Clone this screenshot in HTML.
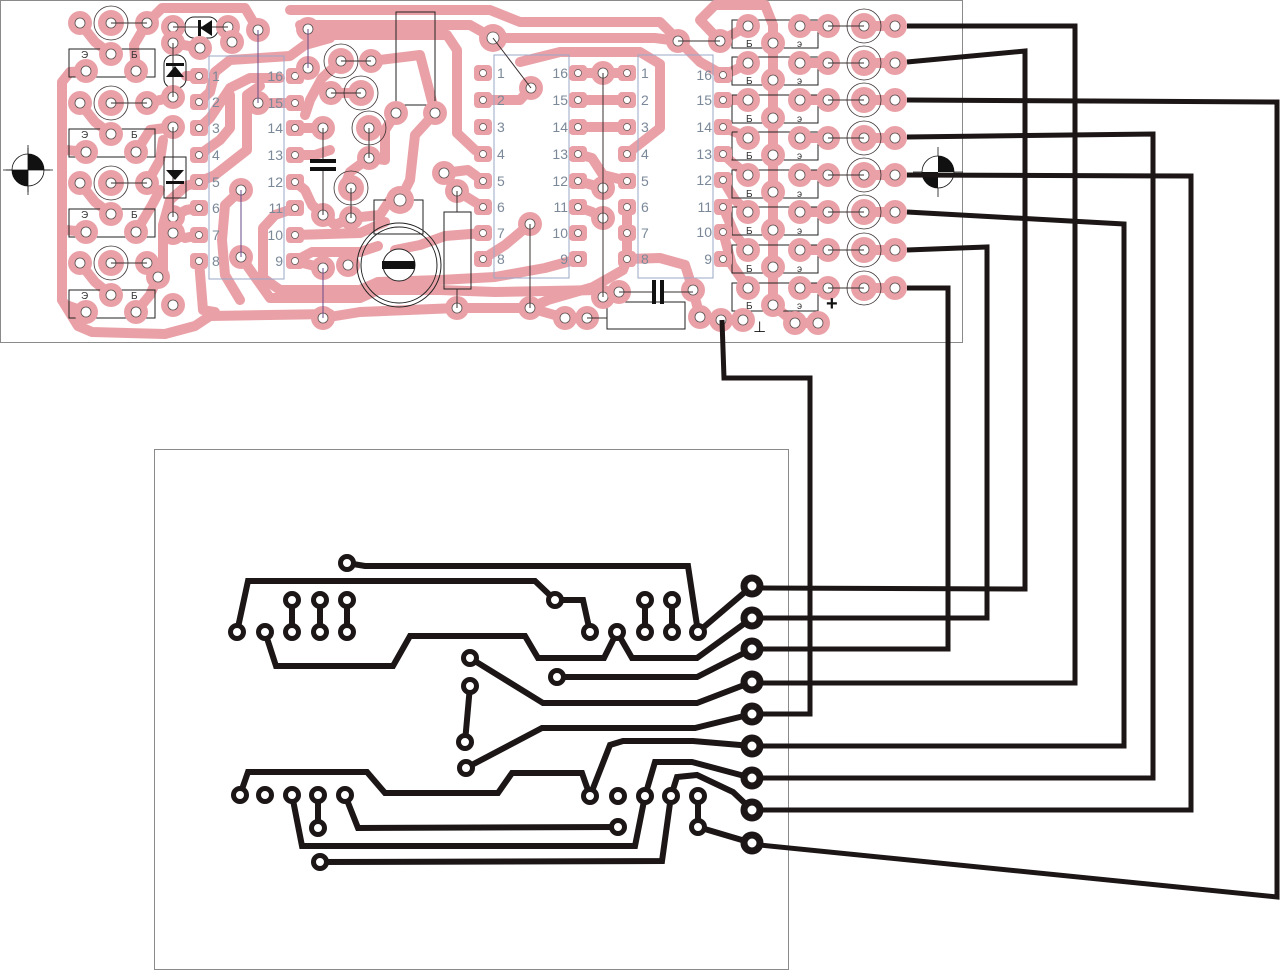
<!DOCTYPE html>
<html><head><meta charset="utf-8"><style>
html,body{margin:0;padding:0;background:#fff;}
svg{display:block;}
.t{fill:none;stroke:#e9a1a7;stroke-width:10;stroke-linejoin:round;stroke-linecap:round;}
.tn{fill:none;stroke:#3a3030;stroke-width:1;}
.tv{fill:none;stroke:#6a4a8a;stroke-width:1;}
.b{fill:none;stroke:#1c1616;stroke-width:6;stroke-linejoin:miter;stroke-linecap:butt;}
.w{fill:none;stroke:#1c1616;stroke-width:5;stroke-linejoin:miter;}
.lbl{font-family:"Liberation Sans",sans-serif;font-size:14px;fill:#7a8898;}
.tr{font-family:"Liberation Sans",sans-serif;font-size:10px;fill:#333;}
</style></head><body>
<svg width="1280" height="972" viewBox="0 0 1280 972" xmlns="http://www.w3.org/2000/svg">
<defs>
<g id="pp"><circle r="12" fill="#e9a1a7"/><circle r="5" fill="#fff" stroke="#5a5050" stroke-width="0.8"/></g>
<g id="pl"><circle r="14" fill="#e9a1a7"/><circle r="6" fill="#fff" stroke="#5a5050" stroke-width="0.8"/></g>
<g id="pr"><circle r="13" fill="#e9a1a7"/><circle r="5" fill="#fff" stroke="#5a5050" stroke-width="0.8"/><circle r="17" fill="none" stroke="#3a3030" stroke-width="0.8"/></g>
<g id="ic"><rect x="-9" y="-8" width="18" height="16" rx="4" fill="#e9a1a7"/><circle r="3.5" fill="#fff" stroke="#5a5050" stroke-width="0.7"/></g>
<g id="bp"><circle r="6.5" fill="#fff" stroke="#1c1616" stroke-width="5"/></g>
<g id="bq"><circle r="8" fill="#fff" stroke="#1c1616" stroke-width="7"/></g>
</defs>

<!-- top board frame -->
<rect x="0.5" y="0.5" width="962" height="342" fill="#fff" stroke="#8a8a8a" stroke-width="1"/>

<!-- pink traces top board -->
<g class="t">
<path d="M62,300 L62,82 L70,72 L86,71"/>
<path d="M62,300 L78,326 L92,332 L165,334 L195,326 L210,316 L330,314"/>
<path d="M80,23 L95,42 L111,54"/>
<path d="M147,23 L134,45 L136,71"/>
<path d="M147,23 L162,8 L245,8 L258,30"/>
<path d="M80,103 L95,122 L111,134"/>
<path d="M147,103 L173,97"/>
<path d="M136,152 L150,130 L173,127"/>
<path d="M80,183 L95,202 L111,214"/>
<path d="M147,183 L160,160 L163,140"/>
<path d="M136,232 L152,205 L160,190"/>
<path d="M80,263 L95,282 L111,295"/>
<path d="M147,263 L158,277"/>
<path d="M136,312 L150,295 L158,277"/>
<path d="M86,152 L66,150"/>
<path d="M86,232 L66,230"/>
<path d="M86,312 L66,305"/>
<path d="M173,43 L200,48"/>
<path d="M228,27 L232,42"/>
<path d="M199,76 L186,76"/>
<path d="M199,102 L210,92 L215,72 L230,60 L290,56 L305,45 L330,38"/>
<path d="M199,128 L210,118 L230,88 L250,78 L280,78"/>
<path d="M199,155 L220,140 L230,128 L230,95"/>
<path d="M199,182 L215,175 L247,150 L247,95 L260,86"/>
<path d="M199,208 L186,210 L173,217"/>
<path d="M199,235 L185,238 L173,233"/>
<path d="M199,261 L203,310 L215,312"/>
<path d="M199,182 L186,186 L170,200 L163,225 L163,270 L158,277"/>
<path d="M241,190 L225,205 L222,240 L225,275 L240,300"/>
<path d="M295,76 L308,68"/>
<path d="M295,103 L258,103"/>
<path d="M295,128 L323,128"/>
<path d="M295,155 L315,155 L330,150"/>
<path d="M295,182 L305,190 L312,205 L323,215"/>
<path d="M295,208 L275,215 L263,228 L263,278 L280,290 L360,290 L378,282 L440,280 L495,277 L545,268 L578,259"/>
<path d="M241,257 L270,298 L360,298 L378,290 L440,290 L495,292 L600,290"/>
<path d="M295,235 L360,233 L385,222"/>
<path d="M295,261 L312,252 L360,252 L378,246"/>
<path d="M295,261 L323,268"/>
<path d="M323,318 L360,312 L457,308 L530,308 L548,300 L593,287 L623,270 L627,259"/>
<path d="M530,308 L565,318 L587,318"/>
<path d="M290,10 L490,10 L520,22 L660,22 L700,62 L723,75"/>
<path d="M300,25 L470,25 L493,38 L655,38 L678,41"/>
<path d="M320,35 L447,35 L457,50 L457,133 L475,150 L483,154"/>
<path d="M371,61 L420,55 L435,113"/>
<path d="M341,61 L322,78 L310,100 L305,115"/>
<path d="M331,93 L361,93"/>
<path d="M396,113 L385,130 L385,160 L369,158"/>
<path d="M435,113 L415,135 L410,180 L400,200"/>
<path d="M369,158 L350,172 L345,185 L351,188"/>
<path d="M351,218 L335,225 L323,215"/>
<path d="M351,218 L380,215 L390,200 L400,200"/>
<path d="M444,173 L457,191 L483,207"/>
<path d="M483,181 L468,170 L444,173"/>
<path d="M483,233 L445,236 L420,245 L395,250"/>
<path d="M483,259 L505,245 L530,224"/>
<path d="M483,100 L520,100 L531,88"/>
<path d="M578,73 L627,73"/>
<path d="M578,100 L627,100"/>
<path d="M578,127 L627,127"/>
<path d="M578,154 L592,158 L603,175 L627,181"/>
<path d="M578,181 L603,188"/>
<path d="M578,207 L592,212 L603,218"/>
<path d="M627,207 L627,259"/>
<path d="M520,62 L560,52 L640,52 L660,64 L660,128 L627,154"/>
<path d="M627,259 L660,258 L685,265 L693,290 L700,317 L721,320 L743,320"/>
<path d="M773,26 L773,305 L795,323 L818,323"/>
<path d="M720,41 L700,20 L715,5 L765,5 L773,25"/>
<path d="M720,41 L735,33 L748,26"/>
<path d="M723,75 L735,70 L748,63"/>
<path d="M723,100 L748,100"/>
<path d="M723,127 L735,132 L748,138"/>
<path d="M723,154 L735,165 L748,175"/>
<path d="M723,180 L735,200 L748,212"/>
<path d="M723,207 L735,235 L748,250"/>
<path d="M723,232 L732,265 L748,288"/>
<path d="M800,26 L828,26"/><path d="M800,63 L828,63"/><path d="M800,100 L828,100"/><path d="M800,138 L828,138"/>
<path d="M800,175 L828,175"/><path d="M800,212 L828,212"/><path d="M800,250 L828,250"/><path d="M800,288 L828,288"/>
<path d="M864,26 L895,26"/><path d="M864,63 L895,63"/><path d="M864,100 L895,100"/><path d="M864,138 L895,138"/>
<path d="M864,175 L895,175"/><path d="M864,212 L895,212"/><path d="M864,250 L895,250"/><path d="M864,288 L895,288"/>
</g>

<!-- component outlines -->
<g fill="none" stroke="#9aa8c8" stroke-width="1">
<rect x="209" y="56" width="75" height="223"/>
<rect x="494" y="55" width="75" height="223"/>
<rect x="638" y="55" width="75" height="223"/>
</g>
<g fill="none" stroke="#222" stroke-width="1">
<rect x="69" y="49" width="86" height="28"/>
<rect x="69" y="129" width="86" height="28"/>
<rect x="69" y="209" width="86" height="28"/>
<rect x="69" y="290" width="86" height="28"/>
<rect x="185" y="17" width="33" height="21" rx="9"/>
<rect x="164" y="55" width="22" height="33" rx="9"/>
<rect x="164" y="157" width="22" height="41"/>
<rect x="396" y="12" width="39" height="93"/>
<rect x="374" y="200" width="49" height="34"/>
<rect x="444" y="212" width="27" height="77"/>
<rect x="607" y="302" width="78" height="27"/>
<rect x="732" y="20" width="86" height="28"/><rect x="732" y="57" width="86" height="28"/>
<rect x="732" y="95" width="86" height="28"/><rect x="732" y="132" width="86" height="28"/>
<rect x="732" y="170" width="86" height="28"/><rect x="732" y="207" width="86" height="28"/>
<rect x="732" y="245" width="86" height="28"/><rect x="732" y="283" width="86" height="28"/>
</g>

<!-- IC pins -->
<g>
<use href="#ic" x="199" y="76"/><use href="#ic" x="199" y="102"/><use href="#ic" x="199" y="128"/><use href="#ic" x="199" y="155"/>
<use href="#ic" x="199" y="182"/><use href="#ic" x="199" y="208"/><use href="#ic" x="199" y="235"/><use href="#ic" x="199" y="261"/>
<use href="#ic" x="295" y="76"/><use href="#ic" x="295" y="103"/><use href="#ic" x="295" y="128"/><use href="#ic" x="295" y="155"/>
<use href="#ic" x="295" y="182"/><use href="#ic" x="295" y="208"/><use href="#ic" x="295" y="235"/><use href="#ic" x="295" y="261"/>
<use href="#ic" x="483" y="73"/><use href="#ic" x="483" y="100"/><use href="#ic" x="483" y="127"/><use href="#ic" x="483" y="154"/>
<use href="#ic" x="483" y="181"/><use href="#ic" x="483" y="207"/><use href="#ic" x="483" y="233"/><use href="#ic" x="483" y="259"/>
<use href="#ic" x="578" y="73"/><use href="#ic" x="578" y="100"/><use href="#ic" x="578" y="127"/><use href="#ic" x="578" y="154"/>
<use href="#ic" x="578" y="181"/><use href="#ic" x="578" y="207"/><use href="#ic" x="578" y="233"/><use href="#ic" x="578" y="259"/>
<use href="#ic" x="627" y="73"/><use href="#ic" x="627" y="100"/><use href="#ic" x="627" y="127"/><use href="#ic" x="627" y="154"/>
<use href="#ic" x="627" y="181"/><use href="#ic" x="627" y="207"/><use href="#ic" x="627" y="233"/><use href="#ic" x="627" y="259"/>
<use href="#ic" x="723" y="75"/><use href="#ic" x="723" y="100"/><use href="#ic" x="723" y="127"/><use href="#ic" x="723" y="154"/>
<use href="#ic" x="723" y="180"/><use href="#ic" x="723" y="207"/><use href="#ic" x="723" y="232"/><use href="#ic" x="723" y="259"/>
</g>

<!-- pin labels -->
<g class="lbl">
<text x="212" y="81">1</text><text x="212" y="107">2</text><text x="212" y="133">3</text><text x="212" y="160">4</text>
<text x="212" y="187">5</text><text x="212" y="213">6</text><text x="212" y="240">7</text><text x="212" y="266">8</text>
<g text-anchor="end">
<text x="283" y="81">16</text><text x="283" y="108">15</text><text x="283" y="133">14</text><text x="283" y="160">13</text>
<text x="283" y="187">12</text><text x="283" y="213">11</text><text x="283" y="240">10</text><text x="283" y="266">9</text>
<text x="568" y="78">16</text><text x="568" y="105">15</text><text x="568" y="132">14</text><text x="568" y="159">13</text>
<text x="568" y="186">12</text><text x="568" y="212">11</text><text x="568" y="238">10</text><text x="568" y="264">9</text>
<text x="712" y="80">16</text><text x="712" y="105">15</text><text x="712" y="132">14</text><text x="712" y="159">13</text>
<text x="712" y="185">12</text><text x="712" y="212">11</text><text x="712" y="237">10</text><text x="712" y="264">9</text>
</g>
<text x="497" y="78">1</text><text x="497" y="105">2</text><text x="497" y="132">3</text><text x="497" y="159">4</text>
<text x="497" y="186">5</text><text x="497" y="212">6</text><text x="497" y="238">7</text><text x="497" y="264">8</text>
<text x="641" y="78">1</text><text x="641" y="105">2</text><text x="641" y="132">3</text><text x="641" y="159">4</text>
<text x="641" y="186">5</text><text x="641" y="212">6</text><text x="641" y="238">7</text><text x="641" y="264">8</text>
</g>

<!-- pads top board -->
<g>
<use href="#pp" x="80" y="23"/><use href="#pr" x="111" y="23"/><use href="#pp" x="147" y="23"/><use href="#pp" x="111" y="54"/><use href="#pp" x="86" y="71"/><use href="#pp" x="136" y="71"/>
<use href="#pp" x="80" y="103"/><use href="#pr" x="111" y="103"/><use href="#pp" x="147" y="103"/><use href="#pp" x="111" y="134"/><use href="#pp" x="86" y="152"/><use href="#pp" x="136" y="152"/>
<use href="#pp" x="80" y="183"/><use href="#pr" x="111" y="183"/><use href="#pp" x="147" y="183"/><use href="#pp" x="111" y="214"/><use href="#pp" x="86" y="232"/><use href="#pp" x="136" y="232"/>
<use href="#pp" x="80" y="263"/><use href="#pr" x="111" y="263"/><use href="#pp" x="147" y="263"/><use href="#pp" x="158" y="277"/><use href="#pp" x="111" y="295"/><use href="#pp" x="86" y="312"/><use href="#pp" x="136" y="312"/>
<use href="#pp" x="173" y="27"/><use href="#pp" x="228" y="27"/><use href="#pp" x="173" y="43"/><use href="#pp" x="200" y="48"/><use href="#pp" x="232" y="42"/>
<use href="#pp" x="173" y="97"/><use href="#pp" x="173" y="127"/><use href="#pp" x="173" y="217"/><use href="#pp" x="173" y="233"/><use href="#pp" x="173" y="305"/>
<use href="#pp" x="258" y="30"/><use href="#pp" x="258" y="103"/><use href="#pp" x="241" y="190"/><use href="#pp" x="241" y="257"/>
<use href="#pp" x="308" y="29"/><use href="#pp" x="308" y="68"/>
<use href="#pp" x="323" y="128"/><use href="#pp" x="323" y="215"/><use href="#pp" x="323" y="268"/><use href="#pp" x="323" y="318"/><use href="#pp" x="348" y="265"/>
<use href="#pr" x="341" y="61"/><use href="#pp" x="371" y="61"/><use href="#pp" x="331" y="93"/><use href="#pr" x="361" y="93"/>
<use href="#pr" x="369" y="128"/><use href="#pp" x="369" y="158"/><use href="#pr" x="351" y="188"/><use href="#pp" x="351" y="218"/>
<use href="#pp" x="396" y="113"/><use href="#pp" x="435" y="113"/>
<use href="#pl" x="400" y="200"/>
<use href="#pp" x="444" y="173"/><use href="#pp" x="457" y="191"/><use href="#pp" x="457" y="308"/>
<use href="#pl" x="493" y="38"/>
<use href="#pp" x="531" y="88"/><use href="#pp" x="530" y="224"/><use href="#pp" x="530" y="308"/>
<use href="#pp" x="603" y="73"/><use href="#pp" x="603" y="188"/><use href="#pp" x="603" y="218"/><use href="#pp" x="603" y="297"/>
<use href="#pp" x="565" y="318"/><use href="#pp" x="587" y="318"/><use href="#pp" x="619" y="292"/>
<use href="#pp" x="693" y="290"/><use href="#pp" x="700" y="317"/><use href="#pp" x="721" y="320"/><use href="#pp" x="743" y="320"/>
<use href="#pp" x="795" y="323"/><use href="#pp" x="818" y="323"/>
<use href="#pp" x="678" y="41"/><use href="#pp" x="720" y="41"/>
</g>
<g>
<use href="#pp" x="748" y="26"/><use href="#pp" x="800" y="26"/><use href="#pp" x="773" y="43"/><use href="#pp" x="828" y="26"/><use href="#pr" x="864" y="26"/><use href="#pp" x="895" y="26"/>
<use href="#pp" x="748" y="63"/><use href="#pp" x="800" y="63"/><use href="#pp" x="773" y="80"/><use href="#pp" x="828" y="63"/><use href="#pr" x="864" y="63"/><use href="#pp" x="895" y="63"/>
<use href="#pp" x="748" y="100"/><use href="#pp" x="800" y="100"/><use href="#pp" x="773" y="118"/><use href="#pp" x="828" y="100"/><use href="#pr" x="864" y="100"/><use href="#pp" x="895" y="100"/>
<use href="#pp" x="748" y="138"/><use href="#pp" x="800" y="138"/><use href="#pp" x="773" y="155"/><use href="#pp" x="828" y="138"/><use href="#pr" x="864" y="138"/><use href="#pp" x="895" y="138"/>
<use href="#pp" x="748" y="175"/><use href="#pp" x="800" y="175"/><use href="#pp" x="773" y="192"/><use href="#pp" x="828" y="175"/><use href="#pr" x="864" y="175"/><use href="#pp" x="895" y="175"/>
<use href="#pp" x="748" y="212"/><use href="#pp" x="800" y="212"/><use href="#pp" x="773" y="230"/><use href="#pp" x="828" y="212"/><use href="#pr" x="864" y="212"/><use href="#pp" x="895" y="212"/>
<use href="#pp" x="748" y="250"/><use href="#pp" x="800" y="250"/><use href="#pp" x="773" y="267"/><use href="#pp" x="828" y="250"/><use href="#pr" x="864" y="250"/><use href="#pp" x="895" y="250"/>
<use href="#pp" x="748" y="288"/><use href="#pp" x="800" y="288"/><use href="#pp" x="773" y="305"/><use href="#pp" x="828" y="288"/><use href="#pr" x="864" y="288"/><use href="#pp" x="895" y="288"/>
</g>

<!-- thin lines -->
<g class="tn">
<path d="M111,23 H147 M111,103 H147 M111,183 H147 M111,263 H147"/>
<path d="M173,27 H228 M173,43 V97 M173,127 V217"/>
<path d="M323,128 V161 M323,169 V215"/>
<path d="M341,61 H371 M331,93 H361 M369,128 V158 M351,188 V218"/>
<path d="M457,191 V212 M457,289 V308"/>
<path d="M531,88 L493,38 M530,224 V308"/>
<path d="M603,73 V297"/>
<path d="M619,292 H654 M662,292 H693"/>
<path d="M587,318 H607"/>
<path d="M678,41 H720"/>
<path d="M828,26 H864 M828,63 H864 M828,100 H864 M828,138 H864 M828,175 H864 M828,212 H864 M828,250 H864 M828,288 H864"/>
</g>
<g class="tv">
<path d="M258,30 V103 M241,190 V257 M308,29 V68 M323,268 V318"/>
</g>

<!-- symbols -->
<g fill="#111">
<polygon points="200,28 212,20 212,36"/><rect x="198" y="20" width="3" height="16"/>
<polygon points="175,66 166,77 184,77"/><rect x="166" y="63" width="18" height="3"/>
<polygon points="166,170 184,170 175,180"/><rect x="166" y="181" width="18" height="3"/>
<rect x="310" y="159" width="26" height="4"/><rect x="310" y="167" width="26" height="4"/>
<rect x="652" y="280" width="4" height="24"/><rect x="660" y="280" width="4" height="24"/>
</g>
<!-- trimmer -->
<circle cx="399" cy="265" r="42" fill="none" stroke="#222" stroke-width="1"/>
<circle cx="399" cy="265" r="38" fill="none" stroke="#222" stroke-width="1"/>
<circle cx="399" cy="265" r="16" fill="#fff" stroke="#222" stroke-width="1"/>
<rect x="382" y="261" width="33" height="8" fill="#111"/>

<!-- transistor labels -->
<g class="tr">
<text x="81" y="58">Э</text><text x="131" y="58">Б</text>
<text x="81" y="138">Э</text><text x="131" y="138">Б</text>
<text x="81" y="218">Э</text><text x="131" y="218">Б</text>
<text x="81" y="299">Э</text><text x="131" y="299">Б</text>
<text x="746" y="47">Б</text><text x="797" y="47">э</text>
<text x="746" y="84">Б</text><text x="797" y="84">э</text>
<text x="746" y="122">Б</text><text x="797" y="122">э</text>
<text x="746" y="159">Б</text><text x="797" y="159">э</text>
<text x="746" y="197">Б</text><text x="797" y="197">э</text>
<text x="746" y="234">Б</text><text x="797" y="234">э</text>
<text x="746" y="272">Б</text><text x="797" y="272">э</text>
<text x="746" y="309">Б</text><text x="797" y="309">э</text>
</g>
<text x="826" y="310" font-family="Liberation Sans,sans-serif" font-size="20" font-weight="bold" fill="#111">+</text>
<text x="753" y="332" font-family="DejaVu Sans,sans-serif" font-size="15" fill="#111">⊥</text>

<!-- crosshairs -->
<g stroke="#111" stroke-width="0.8">
<line x1="3" y1="170" x2="53" y2="170"/><line x1="28" y1="145" x2="28" y2="195"/>
<line x1="913" y1="172" x2="963" y2="172"/><line x1="938" y1="147" x2="938" y2="197"/>
</g>
<circle cx="28" cy="170" r="16" fill="#fff" stroke="#111" stroke-width="0.8"/>
<path d="M28,170 L28,154 A16,16 0 0 1 44,170 Z M28,170 L12,170 A16,16 0 0 0 28,186 Z" fill="#111"/>
<path d="M28,148 V192 M6,170 H50" stroke="#111" stroke-width="0.8"/>
<circle cx="938" cy="172" r="16" fill="#fff" stroke="#111" stroke-width="0.8"/>
<path d="M938,172 L938,156 A16,16 0 0 1 954,172 Z M938,172 L922,172 A16,16 0 0 0 938,188 Z" fill="#111"/>

<!-- bottom board frame -->
<rect x="154.5" y="449.5" width="634" height="520" fill="none" stroke="#8a8a8a" stroke-width="1"/>

<!-- wires -->
<g class="w">
<path d="M907,26 L1075,26 L1075,683 L760,683"/>
<path d="M907,62 L1025,51 L1025,589 L760,588"/>
<path d="M907,100 L1277,102 L1277,897 L760,845"/>
<path d="M907,137 L1153,134 L1153,778 L760,778"/>
<path d="M907,175 L1191,176 L1191,810 L760,810"/>
<path d="M907,212 L1124,224 L1124,746 L760,746"/>
<path d="M907,250 L987,247 L987,618 L760,618"/>
<path d="M907,288 L948,288 L948,649 L760,649"/>
<path d="M722,320 L724,378 L810,378 L810,714 L760,714"/>
</g>

<!-- bottom board traces -->
<g class="b">
<path d="M347,563 L365,566 L688,566 L698,632"/>
<path d="M237,632 L248,581 L535,581 L555,600 L583,600 L590,632"/>
<path d="M265,632 L276,666 L393,666 L410,636 L525,636 L538,658 L604,658 L617,632 L632,658 L697,658 L752,618"/>
<path d="M698,632 L752,586"/>
<path d="M292,600 V632 M320,600 V632 M347,600 V632 M645,600 V632 M672,600 V632"/>
<path d="M470,658 L543,703 L697,703 L752,682"/>
<path d="M557,677 L697,677 L752,649"/>
<path d="M470,686 L465,742"/>
<path d="M466,768 L542,728 L695,728 L752,714"/>
<path d="M590,796 L610,745 L623,741 L693,741 L752,746"/>
<path d="M590,796 L582,773 L512,773 L498,793 L385,793 L367,772 L248,772 L240,795"/>
<path d="M645,796 L655,762 L692,762 L752,778"/>
<path d="M645,796 L635,846 L302,846 L292,795"/>
<path d="M671,796 L677,777 L697,775 L733,792 L752,810"/>
<path d="M671,796 L662,861 L320,862"/>
<path d="M698,796 L698,827 L752,843"/>
<path d="M618,827 L358,828 L345,795"/>
<path d="M318,795 L318,828"/>
</g>
<g>
<use href="#bp" x="347" y="563"/><use href="#bp" x="237" y="632"/><use href="#bp" x="265" y="632"/>
<use href="#bp" x="292" y="600"/><use href="#bp" x="292" y="632"/><use href="#bp" x="320" y="600"/><use href="#bp" x="320" y="632"/>
<use href="#bp" x="347" y="600"/><use href="#bp" x="347" y="632"/>
<use href="#bp" x="555" y="600"/><use href="#bp" x="590" y="632"/><use href="#bp" x="617" y="632"/>
<use href="#bp" x="645" y="600"/><use href="#bp" x="645" y="632"/><use href="#bp" x="672" y="600"/><use href="#bp" x="672" y="632"/><use href="#bp" x="698" y="632"/>
<use href="#bp" x="470" y="658"/><use href="#bp" x="557" y="677"/><use href="#bp" x="470" y="686"/><use href="#bp" x="465" y="742"/><use href="#bp" x="466" y="768"/>
<use href="#bp" x="240" y="795"/><use href="#bp" x="265" y="795"/><use href="#bp" x="292" y="795"/><use href="#bp" x="318" y="795"/><use href="#bp" x="345" y="795"/>
<use href="#bp" x="318" y="828"/><use href="#bp" x="320" y="862"/>
<use href="#bp" x="590" y="796"/><use href="#bp" x="618" y="796"/><use href="#bp" x="645" y="796"/><use href="#bp" x="671" y="796"/><use href="#bp" x="698" y="796"/>
<use href="#bp" x="618" y="827"/><use href="#bp" x="698" y="827"/>
<use href="#bq" x="752" y="586"/><use href="#bq" x="752" y="618"/><use href="#bq" x="752" y="649"/><use href="#bq" x="752" y="682"/>
<use href="#bq" x="752" y="714"/><use href="#bq" x="752" y="746"/><use href="#bq" x="752" y="778"/><use href="#bq" x="752" y="810"/><use href="#bq" x="752" y="843"/>
</g>
</svg>
</body></html>
